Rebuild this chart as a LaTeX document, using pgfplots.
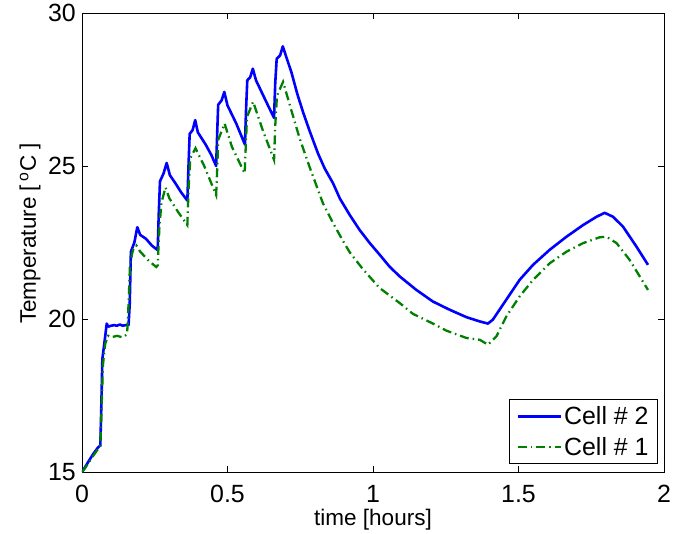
\documentclass[border=0pt]{standalone}
\usepackage{pgfplots}
\pgfplotsset{compat=1.18}
\usepackage{fontspec}
\setmainfont{Liberation Sans}
\definecolor{mblue}{RGB}{0,0,255}
\definecolor{mgreen}{RGB}{0,128,0}
\begin{document}
\begin{tikzpicture}
\begin{axis}[
  scale only axis,
  width=582bp, height=459bp,
  xmin=0, xmax=2, ymin=15, ymax=30,
  xtick={0,0.5,1,1.5,2}, xticklabels={0,0.5,1,1.5,2},
  ytick={15,20,25,30}, yticklabels={15,20,25,30},
  tick align=inside, major tick length=6bp,
  axis line style={line width=0.8bp},
  every tick/.style={black, line width=0.8bp},
  tick label style={font=\fontsize{25}{30}\selectfont},
  xticklabel style={anchor=base, yshift=-30bp},
  yticklabel style={anchor=east, inner sep=0pt, xshift=-6bp},
  xlabel={time [hours]},
  ylabel={Temperature [\,\textsuperscript{o}C ]},
  every axis x label/.style={at={(axis description cs:0.5,0)}, anchor=base, yshift=-53bp, font=\fontsize{22.6}{27}\selectfont},
  every axis y label/.style={at={(axis description cs:-0.0893,0.5196)}, rotate=90, anchor=center, font=\fontsize{22.6}{27}\selectfont},
  legend style={at={(rel axis cs:1,0)}, anchor=south east, xshift=-6bp, yshift=8bp,
    draw=black, line width=0.8bp, fill=white, font=\fontsize{25}{30}\selectfont,
    inner xsep=7bp, inner ysep=5bp, row sep=7bp, nodes={inner sep=2bp}},
  legend cell align=left,
  legend image code/.code={\draw[#1] (0bp,0bp) -- (43bp,0bp);},
]
\addplot[mblue, line width=2.6bp, line join=round] coordinates {
(0.000,15.00) (0.010,15.15) (0.026,15.40) (0.038,15.58) (0.055,15.80) (0.063,15.87)
(0.066,17.0) (0.070,18.7) (0.078,19.30) (0.085,19.85) (0.090,19.75) (0.100,19.78)
(0.110,19.80) (0.120,19.78) (0.130,19.82) (0.140,19.78) (0.150,19.80) (0.160,19.80)
(0.164,20.5) (0.168,22.2) (0.180,22.5) (0.190,23.0) (0.200,22.75) (0.220,22.62)
(0.240,22.40) (0.260,22.25) (0.264,23.5) (0.268,24.5) (0.280,24.75) (0.291,25.10)
(0.302,24.70) (0.320,24.45) (0.340,24.15) (0.362,23.87) (0.366,25.0) (0.370,26.05)
(0.380,26.17) (0.389,26.50) (0.398,26.10) (0.425,25.70) (0.445,25.35) (0.461,25.00)
(0.465,26.2) (0.468,27.00) (0.480,27.15) (0.489,27.42) (0.500,26.98) (0.530,26.39)
(0.560,25.70) (0.564,26.9) (0.568,27.80) (0.578,27.90) (0.587,28.18) (0.598,27.80)
(0.628,27.20) (0.660,26.57) (0.664,27.7) (0.669,28.50) (0.681,28.62) (0.690,28.91)
(0.700,28.62) (0.720,28.05) (0.740,27.35) (0.760,26.75) (0.782,26.15) (0.811,25.41)
(0.834,24.92) (0.863,24.43) (0.886,23.94) (0.920,23.40) (0.954,22.91) (0.989,22.48)
(1.023,22.10) (1.057,21.71) (1.092,21.39) (1.149,20.95) (1.206,20.57) (1.264,20.30)
(1.321,20.06) (1.367,19.92) (1.395,19.85) (1.412,19.98) (1.458,20.63) (1.504,21.28)
(1.550,21.77) (1.607,22.26) (1.665,22.69) (1.722,23.07) (1.768,23.34) (1.796,23.47)
(1.825,23.34) (1.859,23.02) (1.905,22.37) (1.945,21.77)
};
\addlegendentry{Cell \# 2}
\addplot[mgreen, line width=2.3bp, dash pattern=on 9bp off 4bp on 1.5bp off 4bp] coordinates {
(0.000,15.00) (0.010,15.12) (0.026,15.35) (0.040,15.55) (0.055,15.75) (0.063,15.82)
(0.067,17.0) (0.072,18.5) (0.080,19.20) (0.090,19.45) (0.100,19.40) (0.120,19.45)
(0.140,19.40) (0.155,19.50) (0.160,20.5) (0.165,21.80) (0.175,22.25) (0.187,22.40)
(0.200,22.20) (0.230,21.90) (0.255,21.70) (0.260,21.75) (0.266,23.0) (0.273,23.80)
(0.287,24.30) (0.300,23.95) (0.330,23.50) (0.362,23.07) (0.366,24.2) (0.372,25.25)
(0.390,25.58) (0.420,25.00) (0.461,24.05) (0.465,25.0) (0.468,25.85) (0.490,26.39)
(0.515,25.63) (0.559,24.76) (0.563,25.7) (0.567,26.60) (0.588,27.10) (0.620,26.20)
(0.660,25.20) (0.664,26.3) (0.670,27.30) (0.691,27.75) (0.720,26.80) (0.748,25.90)
(0.782,24.97) (0.828,23.78) (0.863,23.13) (0.897,22.55) (0.920,22.18) (0.966,21.62)
(1.023,21.01) (1.092,20.52) (1.137,20.17) (1.206,19.85) (1.252,19.62) (1.321,19.38)
(1.367,19.32) (1.395,19.16) (1.424,19.43) (1.458,20.08) (1.504,20.74) (1.550,21.28)
(1.607,21.82) (1.665,22.20) (1.722,22.48) (1.779,22.67) (1.802,22.69) (1.837,22.48)
(1.882,21.93) (1.945,20.95)
};
\addlegendentry{Cell \# 1}
\end{axis}
\path ([shift={(-82bp,-62bp)}]current axis.south west) rectangle ([shift={(25bp,13bp)}]current axis.north east);
\end{tikzpicture}
\end{document}
